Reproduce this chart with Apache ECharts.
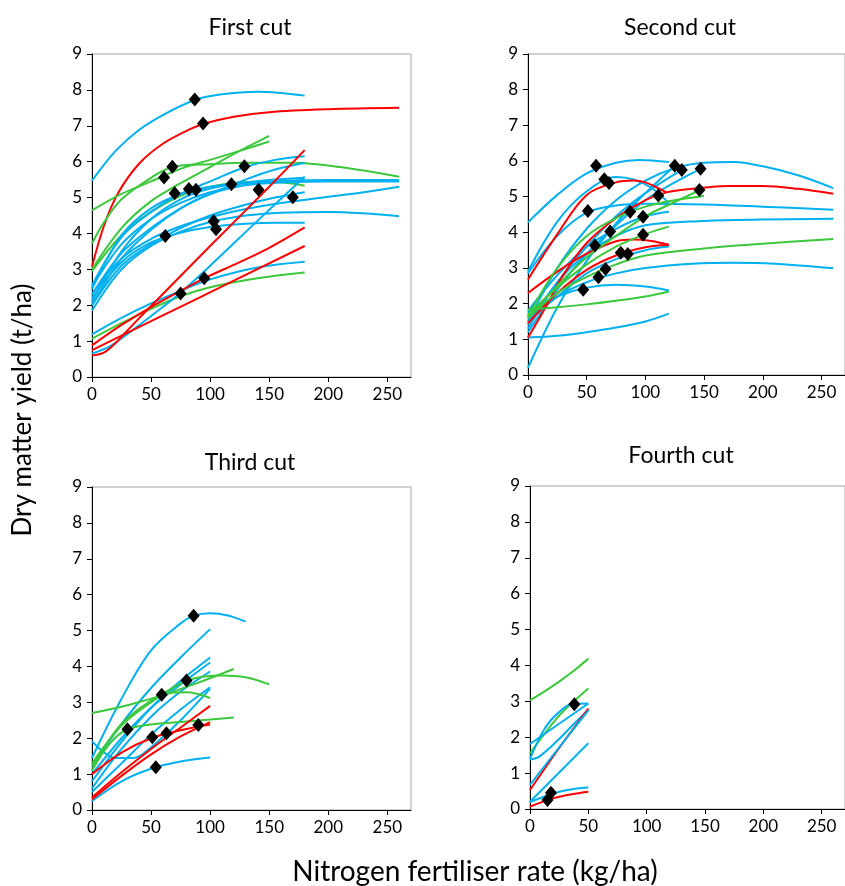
<!DOCTYPE html>
<html>
<head>
<meta charset="utf-8">
<script src="https://cdn.jsdelivr.net/npm/echarts@6/dist/echarts.min.js"></script>
<style>
  html, body { margin: 0; padding: 0; background: #fff; }
  #main { width: 845px; height: 886px; }
</style>
</head>
<body>
<div id="main"></div>
<script>
// axis ticks
const xTicks = [0, 50, 100, 150, 200, 250]
const yTicks = [0, 1, 2, 3, 4, 5, 6, 7, 8, 9]
const panelTitles = ['First cut', 'Second cut', 'Third cut', 'Fourth cut']

// curves: [group, N rates, dry matter yields]   (b = blue, r = red, g = green)
const cut1Curves = [
  ['b', [0, 20, 40, 60, 87, 110, 140, 180], [5.47, 6.3, 6.89, 7.3, 7.72, 7.88, 7.95, 7.84]],
  ['r', [0, 10, 22, 40, 60, 82, 94, 120, 150, 200, 260], [3.07, 4.2, 5.12, 5.95, 6.5, 6.89, 7.05, 7.25, 7.38, 7.46, 7.5]],
  ['g', [0, 25, 50, 75, 100, 125, 150], [4.64, 5.1, 5.45, 5.8, 6.05, 6.3, 6.56]],
  ['g', [0, 10, 25, 50, 68, 100, 130, 170, 210, 260], [3.72, 4.3, 4.95, 5.55, 5.85, 5.93, 5.97, 5.97, 5.85, 5.58]],
  ['g', [0, 25, 50, 75, 100, 125, 150], [3.0, 4.15, 4.9, 5.4, 5.85, 6.3, 6.72]],
  ['g', [0, 25, 50, 75, 100, 130, 155, 180], [2.95, 3.95, 4.6, 5.05, 5.3, 5.43, 5.43, 5.33]],
  ['g', [0, 25, 50, 75, 100, 140, 180], [1.07, 1.5, 1.9, 2.25, 2.5, 2.75, 2.91]],
  ['b', [0, 25, 50, 75, 100, 130, 155, 180], [2.55, 3.9, 4.6, 5.1, 5.45, 5.85, 6.05, 6.15]],
  ['b', [0, 25, 50, 75, 100, 130, 155, 180], [2.3, 3.45, 4.15, 4.7, 5.1, 5.5, 5.78, 5.97]],
  ['b', [0, 25, 50, 75, 100, 130, 155, 180], [2.45, 3.95, 4.7, 5.1, 5.3, 5.42, 5.5, 5.55]],
  ['b', [0, 25, 50, 75, 100, 130, 155, 180], [2.1, 3.5, 4.4, 4.95, 5.25, 5.4, 5.45, 5.48]],
  ['b', [0, 25, 50, 75, 100, 130, 160, 200, 260], [2.0, 3.3, 4.1, 4.7, 5.1, 5.35, 5.45, 5.49, 5.49]],
  ['b', [0, 25, 50, 75, 100, 130, 160, 200, 230, 260], [1.85, 3.0, 3.65, 4.05, 4.32, 4.5, 4.58, 4.6, 4.56, 4.48]],
  ['b', [0, 25, 50, 75, 100, 130, 155, 180], [2.2, 3.2, 3.75, 4.02, 4.18, 4.27, 4.3, 4.3]],
  ['b', [0, 25, 50, 75, 100, 130, 160, 200, 230, 260], [2.3, 3.3, 3.85, 4.2, 4.45, 4.68, 4.85, 5.02, 5.15, 5.3]],
  ['b', [0, 25, 50, 75, 100, 130, 155, 180], [2.0, 3.1, 3.7, 4.15, 4.5, 4.8, 5.0, 5.15]],
  ['b', [0, 25, 50, 75, 100, 130, 160, 200, 260], [2.5, 3.7, 4.4, 4.85, 5.15, 5.35, 5.42, 5.45, 5.45]],
  ['b', [0, 25, 50, 75, 100, 140, 180], [1.19, 1.65, 2.05, 2.4, 2.72, 3.05, 3.21]],
  ['b', [0, 15, 30, 50, 75, 100, 140, 180], [0.65, 0.85, 1.2, 1.7, 2.35, 3.1, 4.35, 5.58]],
  ['r', [0, 10, 20, 30, 50, 100, 150, 180], [0.6, 0.68, 0.95, 1.3, 1.98, 3.65, 5.3, 6.32]],
  ['r', [0, 25, 50, 75, 95, 125, 150, 180], [0.88, 1.45, 1.95, 2.4, 2.75, 3.2, 3.6, 4.17]],
  ['r', [0, 90, 180], [0.75, 2.2, 3.65]]
]
const cut1PointX = [87, 94, 61, 68, 70, 82, 88, 118, 129, 141, 170, 62, 103, 105, 95, 75]
const cut1PointY = [7.73, 7.06, 5.56, 5.86, 5.12, 5.24, 5.22, 5.37, 5.87, 5.22, 5.01, 3.93, 4.34, 4.12, 2.75, 2.33]

const cut2Curves = [
  ['b', [0, 25, 50, 75, 95, 120], [4.28, 5.05, 5.65, 5.95, 6.03, 5.97]],
  ['b', [0, 25, 50, 75, 100, 125, 150, 175, 200, 230, 260], [1.5, 3.0, 4.1, 4.9, 5.45, 5.8, 5.95, 5.97, 5.85, 5.6, 5.24]],
  ['b', [0, 25, 50, 75, 90, 105, 120], [2.9, 4.3, 5.15, 5.55, 5.48, 5.25, 4.82]],
  ['b', [0, 25, 50, 75, 100, 150, 200, 260], [2.85, 3.9, 4.55, 4.75, 4.8, 4.78, 4.72, 4.63]],
  ['b', [0, 25, 50, 75, 100, 150, 200, 260], [1.4, 2.6, 3.4, 3.9, 4.2, 4.32, 4.36, 4.38]],
  ['b', [0, 25, 50, 75, 100, 140, 175, 210, 260], [1.6, 2.2, 2.6, 2.85, 3.0, 3.12, 3.15, 3.12, 2.99]],
  ['b', [0, 25, 50, 75, 100, 120], [1.75, 2.2, 2.45, 2.53, 2.48, 2.37]],
  ['b', [0, 25, 50, 75, 100, 120], [1.05, 1.1, 1.2, 1.33, 1.5, 1.72]],
  ['b', [0, 25, 50, 75, 100, 125], [0.2, 1.9, 3.2, 4.25, 5.1, 5.87]],
  ['b', [0, 25, 50, 75, 100, 131], [1.3, 2.6, 3.6, 4.45, 5.1, 5.75]],
  ['b', [0, 25, 50, 75, 100, 125, 147], [1.2, 2.4, 3.4, 4.2, 4.9, 5.4, 5.78]],
  ['b', [0, 25, 50, 75, 100, 120], [1.5, 2.2, 2.85, 3.25, 3.5, 3.6]],
  ['b', [0, 25, 50, 75, 100, 120], [1.8, 2.8, 3.6, 4.1, 4.45, 4.58]],
  ['r', [0, 25, 50, 75, 90, 100, 110, 118], [2.68, 3.95, 5.05, 5.4, 5.45, 5.4, 5.25, 5.12]],
  ['r', [0, 15, 30, 50, 75, 100, 118, 140, 170, 200, 230, 260], [1.05, 1.9, 2.8, 3.7, 4.4, 4.9, 5.12, 5.22, 5.3, 5.3, 5.22, 5.08]],
  ['r', [0, 25, 50, 75, 90, 105, 120], [2.3, 2.9, 3.4, 3.75, 3.8, 3.76, 3.65]],
  ['r', [0, 25, 50, 75, 100, 120], [1.45, 2.3, 2.95, 3.35, 3.58, 3.65]],
  ['g', [0, 25, 50, 75, 100, 120], [1.84, 1.9, 1.98, 2.08, 2.2, 2.34]],
  ['g', [0, 25, 50, 75, 100, 150, 200, 260], [1.6, 2.3, 2.75, 3.1, 3.35, 3.55, 3.68, 3.81]],
  ['g', [0, 25, 50, 75, 100, 125, 150], [1.65, 3.0, 3.9, 4.4, 4.72, 4.9, 5.02]],
  ['g', [0, 25, 50, 75, 100, 125, 146], [1.6, 2.5, 3.3, 3.9, 4.45, 4.85, 5.18]],
  ['g', [0, 25, 50, 75, 100, 120], [1.7, 2.45, 3.1, 3.6, 3.95, 4.16]]
]
const cut2PointX = [58, 65, 69, 51, 111, 125, 131, 147, 146, 87, 98, 70, 98, 57, 79, 85, 66, 60, 47]
const cut2PointY = [5.87, 5.49, 5.38, 4.6, 5.03, 5.87, 5.75, 5.78, 5.19, 4.58, 4.44, 4.02, 3.93, 3.63, 3.43, 3.39, 2.97, 2.74, 2.39]

const cut3Curves = [
  ['b', [0, 25, 50, 75, 86, 100, 115, 130], [1.45, 3.1, 4.45, 5.2, 5.41, 5.48, 5.42, 5.25]],
  ['b', [0, 25, 50, 75, 100], [1.2, 2.4, 3.4, 4.25, 5.04]],
  ['b', [0, 25, 50, 75, 100], [0.8, 1.9, 2.85, 3.6, 4.25]],
  ['b', [0, 25, 50, 75, 100], [1.0, 2.0, 2.85, 3.5, 4.11]],
  ['b', [0, 25, 50, 75, 100], [0.6, 1.7, 2.6, 3.3, 3.86]],
  ['b', [0, 25, 50, 75, 100], [0.5, 1.3, 2.1, 2.8, 3.42]],
  ['b', [0, 20, 35, 50, 75, 100], [1.92, 1.45, 1.45, 1.75, 2.5, 3.38]],
  ['b', [0, 25, 50, 75, 100], [0.25, 0.8, 1.15, 1.35, 1.46]],
  ['g', [0, 30, 60, 90, 120], [2.7, 2.92, 3.2, 3.55, 3.93]],
  ['g', [0, 25, 50, 80, 110, 130, 150], [1.3, 2.35, 3.0, 3.6, 3.75, 3.7, 3.5]],
  ['g', [0, 25, 50, 65, 80, 100], [1.2, 2.4, 3.05, 3.25, 3.28, 3.12]],
  ['g', [0, 15, 30, 50, 75, 100, 120], [1.1, 1.85, 2.25, 2.38, 2.45, 2.52, 2.58]],
  ['r', [0, 25, 50, 75, 100], [0.35, 1.05, 1.7, 2.3, 2.9]],
  ['r', [0, 25, 50, 75, 100], [0.3, 0.95, 1.55, 2.05, 2.45]],
  ['r', [0, 25, 50, 75, 100], [1.0, 1.6, 2.0, 2.22, 2.38]]
]
const cut3PointX = [86, 80, 59, 30, 51, 63, 90, 54]
const cut3PointY = [5.41, 3.61, 3.21, 2.25, 2.03, 2.14, 2.37, 1.19]

const cut4Curves = [
  ['g', [0, 12.5, 25, 37.5, 50], [3.03, 3.28, 3.55, 3.85, 4.19]],
  ['g', [0, 12.5, 25, 37.5, 50], [1.55, 2.1, 2.6, 3.0, 3.36]],
  ['b', [0, 50], [1.81, 2.94]],
  ['b', [0, 10, 18, 25, 35, 50], [1.4, 2.1, 2.48, 2.7, 2.92, 2.94]],
  ['b', [0, 8, 25, 37.5, 50], [1.38, 1.46, 1.95, 2.37, 2.76]],
  ['r', [0, 25, 50], [0.53, 1.7, 2.8]],
  ['b', [0, 25, 50], [0.67, 1.72, 2.75]],
  ['b', [0, 50], [0.2, 1.83]],
  ['b', [0, 12.5, 25, 37.5, 50], [0.2, 0.35, 0.48, 0.56, 0.6]],
  ['r', [0, 12.5, 25, 37.5, 50], [0.07, 0.22, 0.34, 0.42, 0.48]]
]
const cut4PointX = [15, 18, 38]
const cut4PointY = [0.25, 0.45, 2.92]

const panels = [
  { curves: cut1Curves, px: cut1PointX, py: cut1PointY },
  { curves: cut2Curves, px: cut2PointX, py: cut2PointY },
  { curves: cut3Curves, px: cut3PointX, py: cut3PointY },
  { curves: cut4Curves, px: cut4PointX, py: cut4PointY }
]

const palette = { b: '#00B0F0', r: '#FF0000', g: '#3CC83C' }
const font = 'Lato, "Open Sans", sans-serif'

// plot areas in pixels
const boxes = [
  { left: 92, top: 54, width: 319, height: 323 },
  { left: 528, top: 54, width: 323, height: 321 },
  { left: 92, top: 487, width: 319, height: 323 },
  { left: 530, top: 486, width: 320, height: 323 }
]
const titlePos = [[250, 16], [680, 16], [250, 451], [681, 444]]

const chart = echarts.init(document.getElementById('main'), null, { renderer: 'canvas' })

const series = []
panels.forEach((p, i) => {
  p.curves.forEach(c => {
    series.push({
      type: 'line',
      xAxisIndex: i,
      yAxisIndex: i,
      data: c[1].map((x, k) => [x, c[2][k]]),
      smooth: 0.35,
      showSymbol: false,
      silent: true,
      lineStyle: { width: 2, color: palette[c[0]] },
      z: 2
    })
  })
  series.push({
    type: 'scatter',
    xAxisIndex: i,
    yAxisIndex: i,
    data: p.px.map((x, k) => [x, p.py[k]]),
    symbol: 'diamond',
    symbolSize: [12, 14],
    itemStyle: { color: '#000', opacity: 1 },
    silent: true,
    z: 5
  })
})

chart.setOption({
  animation: false,
  backgroundColor: '#fff',
  title: panelTitles.map((t, i) => ({
    text: t,
    left: titlePos[i][0],
    top: titlePos[i][1],
    textAlign: 'center',
    padding: 0,
    textStyle: { fontFamily: font, fontSize: 23, fontWeight: 'normal', color: '#000' }
  })),
  grid: boxes.map(b => ({
    left: b.left, top: b.top, width: b.width, height: b.height,
    containLabel: false,
    show: true,
    borderColor: '#A6A6A6',
    borderWidth: 1,
    backgroundColor: 'transparent'
  })),
  xAxis: boxes.map((b, i) => ({
    type: 'value',
    gridIndex: i,
    min: 0,
    max: 270,
    interval: 50,
    axisLine: { show: true, onZero: false, lineStyle: { color: '#000', width: 1 } },
    axisTick: { show: true, length: 5, customValues: xTicks, lineStyle: { color: '#000' } },
    axisLabel: { customValues: xTicks, fontFamily: font, fontSize: 17, color: '#000', margin: 9 },
    splitLine: { show: false }
  })),
  yAxis: boxes.map((b, i) => ({
    type: 'value',
    gridIndex: i,
    min: 0,
    max: 9,
    interval: 1,
    axisLine: { show: true, lineStyle: { color: '#000', width: 1 } },
    axisTick: { show: true, length: 5, customValues: yTicks, lineStyle: { color: '#000' } },
    axisLabel: { customValues: yTicks, fontFamily: font, fontSize: 17, color: '#000', margin: 10 },
    splitLine: { show: false }
  })),
  graphic: [
    {
      type: 'text',
      x: 475, y: 872,
      style: {
        text: 'Nitrogen fertiliser rate (kg/ha)',
        font: '28px ' + font,
        fill: '#000',
        textAlign: 'center',
        textVerticalAlign: 'middle'
      }
    },
    {
      type: 'text',
      x: 23, y: 410,
      rotation: Math.PI / 2,
      style: {
        text: 'Dry matter yield (t/ha)',
        font: '26px ' + font,
        fill: '#000',
        textAlign: 'center',
        textVerticalAlign: 'middle'
      }
    }
  ],
  series: series
})
</script>
</body>
</html>
